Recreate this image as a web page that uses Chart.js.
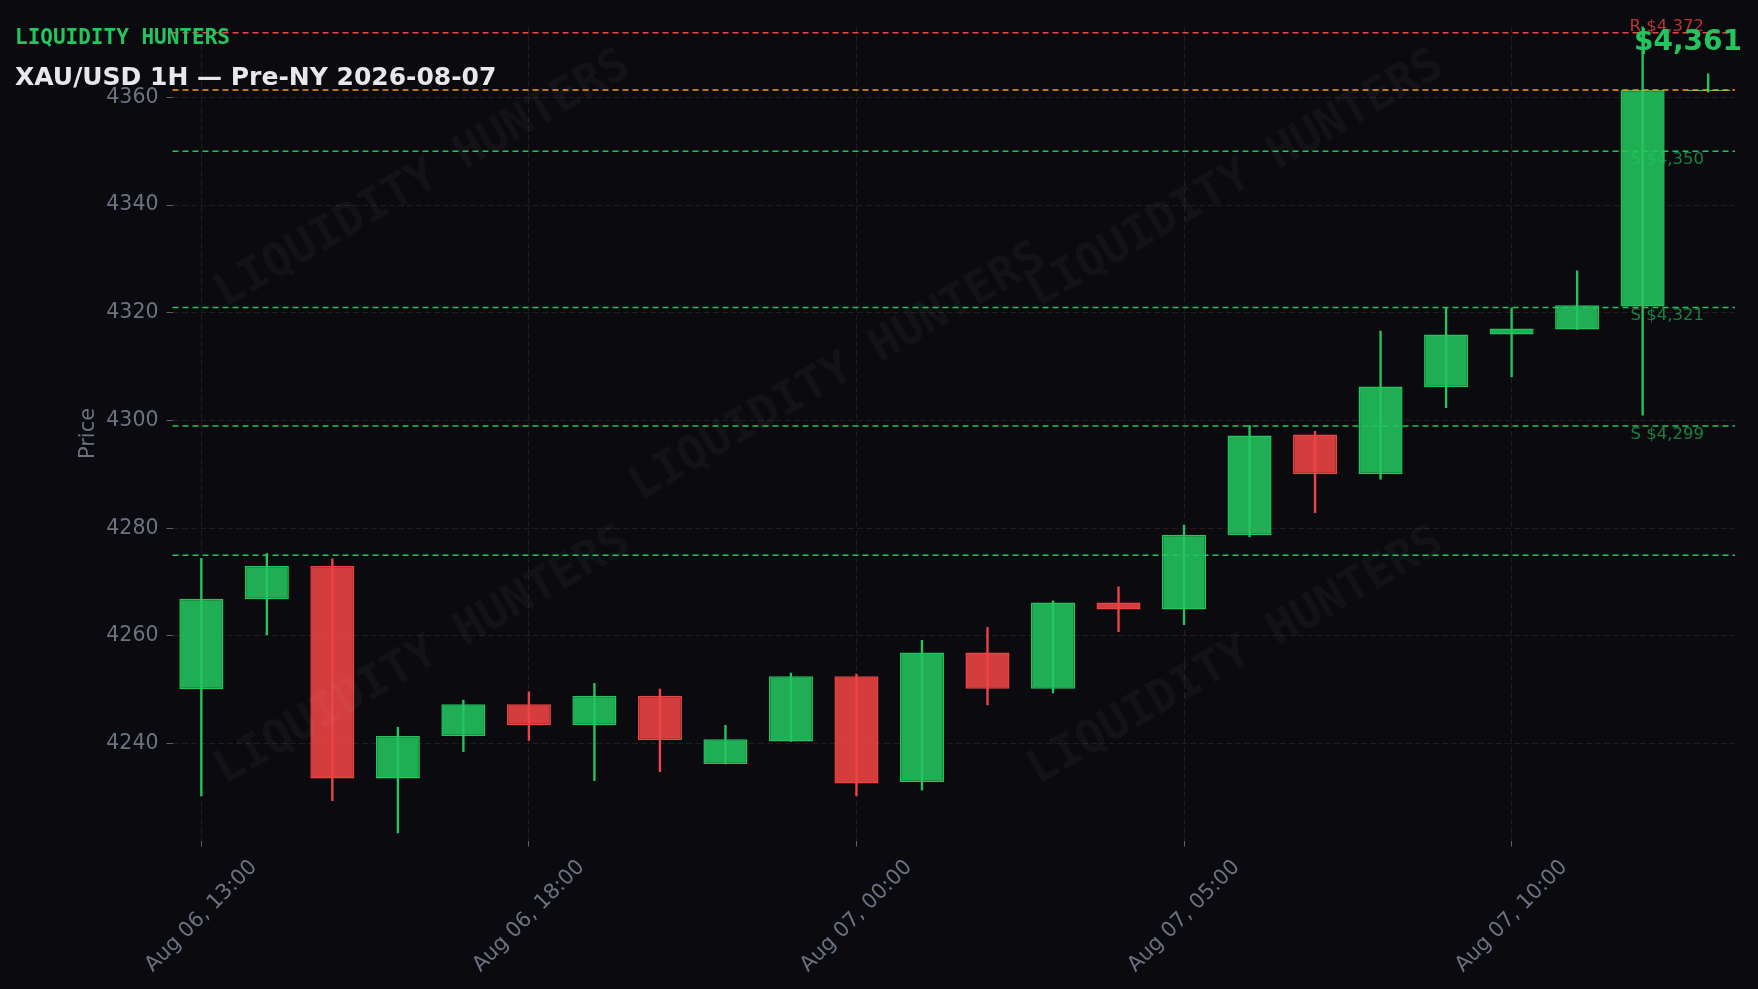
<!DOCTYPE html>
<html><head><meta charset="utf-8">
<script src="https://cdn.jsdelivr.net/npm/chart.js@4.4.1/dist/chart.umd.min.js"></script>
<style>html,body{margin:0;padding:0;background:#0b0b0f;}canvas{display:block}</style>
</head><body>
<canvas id="c" width="1758" height="989"></canvas>
<script>
// ---- data ----
const timeLabels = [
  "Aug 06, 13:00","Aug 06, 14:00","Aug 06, 15:00","Aug 06, 16:00","Aug 06, 17:00",
  "Aug 06, 18:00","Aug 06, 19:00","Aug 06, 20:00","Aug 06, 21:00","Aug 06, 23:00",
  "Aug 07, 00:00","Aug 07, 01:00","Aug 07, 02:00","Aug 07, 03:00","Aug 07, 04:00",
  "Aug 07, 05:00","Aug 07, 06:00","Aug 07, 07:00","Aug 07, 08:00","Aug 07, 09:00",
  "Aug 07, 10:00","Aug 07, 11:00","Aug 07, 12:00","Aug 07, 13:00"
];
const opens  = [4250.1,4266.8,4273.0,4233.5,4241.4,4247.3,4243.4,4248.9,4236.2,4240.4,4252.5,4232.8,4256.9,4250.2,4266.2,4264.9,4278.7,4297.4,4290.0,4306.2,4316.0,4316.9,4321.2,4361.2];
const highs  = [4274.4,4275.3,4274.3,4243.0,4248.1,4249.6,4251.2,4250.1,4243.4,4253.1,4252.9,4259.2,4261.6,4266.5,4269.1,4280.6,4299.1,4298.0,4316.6,4320.9,4320.9,4327.8,4373.2,4364.4];
const lows   = [4230.3,4260.2,4229.4,4223.4,4238.5,4240.6,4233.1,4234.8,4236.2,4240.4,4230.3,4231.4,4247.2,4249.4,4260.8,4262.1,4278.4,4282.9,4289.1,4302.4,4308.1,4316.9,4301.0,4361.0];
const closes = [4266.9,4273.0,4233.5,4241.4,4247.3,4243.4,4248.9,4240.6,4240.8,4252.5,4232.6,4256.9,4250.2,4266.2,4264.9,4278.8,4297.2,4290.0,4306.3,4316.0,4317.1,4321.4,4361.4,4361.4];
const yTickValues = [4240,4260,4280,4300,4320,4340,4360];
const xTickIndices = [0,5,10,15,20];
const yMin = 4222, yMax = 4373.2;
const xMin = -0.44, xMax = 23.41;
const levelValues = [4372, 4350, 4321, 4299, 4275];
const levelTypes  = ['R','S','S','S','S'];
const levelLabels = ['R $4,372','S $4,350','S $4,321','S $4,299',''];
const lastPrice = closes[closes.length-1];
const priceLabel = '$4,361';
const brandText = 'LIQUIDITY HUNTERS';
const titleText = 'XAU/USD 1H \u2014 Pre-NY 2026-08-07';
const yAxisTitle = 'Price';

// ---- styles ----
const BG = '#0b0b0f';
const GREEN = '#22c55e', RED = '#ef4444', ORANGE = '#f59e0b';
const GREEN_FILL = 'rgba(34,197,94,0.88)', RED_FILL = 'rgba(239,68,68,0.88)';
const TICK_COLOR = '#6b7280';
const FONT = "'DejaVu Sans', sans-serif";
const MONO = "'DejaVu Sans Mono', monospace";

const idx = opens.map((_, i) => i);
const up = idx.map(i => closes[i] >= opens[i]);

const bgPlugin = {
  id: 'bg',
  beforeDraw(chart) {
    const ctx = chart.ctx;
    ctx.save(); ctx.fillStyle = BG; ctx.fillRect(0, 0, chart.width, chart.height); ctx.restore();
  }
};

const overlayPlugin = {
  id: 'overlay',
  afterDatasetsDraw(chart) {
    const {ctx, chartArea: a, scales: {y}} = chart;
    ctx.save();
    // watermarks
    ctx.font = "bold 46px " + MONO;
    ctx.fillStyle = 'rgba(255,255,255,0.035)';
    ctx.textAlign = 'center'; ctx.textBaseline = 'middle';
    const marks = [[0.2406,0.182],[0.4767,0.377],[0.7031,0.182],[0.2406,0.664],[0.7031,0.664]];
    marks.forEach(([fx, fy]) => {
      ctx.save();
      ctx.translate(fx * chart.width, fy * chart.height);
      ctx.rotate(-30 * Math.PI / 180);
      ctx.fillText(brandText, 0, 0);
      ctx.restore();
    });
    // level lines
    ctx.lineWidth = 1.5;
    ctx.setLineDash([6, 4]);
    levelValues.forEach((v, i) => {
      const py = y.getPixelForValue(v);
      ctx.strokeStyle = levelTypes[i] === 'R' ? RED : GREEN;
      ctx.beginPath(); ctx.moveTo(a.left, py); ctx.lineTo(a.right, py); ctx.stroke();
    });
    const pp = y.getPixelForValue(lastPrice);
    ctx.strokeStyle = ORANGE;
    ctx.beginPath(); ctx.moveTo(a.left, pp); ctx.lineTo(a.right, pp); ctx.stroke();
    ctx.setLineDash([]);
    // level labels
    ctx.font = "16.5px " + FONT;
    ctx.textAlign = 'right'; ctx.textBaseline = 'alphabetic';
    levelValues.forEach((v, i) => {
      if (!levelLabels[i]) return;
      const py = y.getPixelForValue(v);
      if (levelTypes[i] === 'R') {
        ctx.fillStyle = 'rgba(239,68,68,0.75)';
        ctx.fillText(levelLabels[i], a.right - 31, py - 1.5);
      } else {
        ctx.fillStyle = 'rgba(34,197,94,0.62)';
        ctx.fillText(levelLabels[i], a.right - 31, py + 13);
      }
    });
    ctx.restore();
  },
  afterDraw(chart) {
    const ctx = chart.ctx;
    ctx.save();
    ctx.textAlign = 'left'; ctx.textBaseline = 'alphabetic';
    ctx.font = "bold 21px " + MONO;
    ctx.fillStyle = GREEN;
    ctx.fillText(brandText, 15, 44);
    ctx.font = "bold 25px " + FONT;
    ctx.fillStyle = '#e8e8ec';
    ctx.fillText(titleText, 15, 85);
    ctx.font = "bold 28px " + FONT;
    ctx.fillStyle = GREEN;
    ctx.textAlign = 'right';
    ctx.fillText(priceLabel, chart.width - 16, 50);
    ctx.restore();
  }
};

new Chart(document.getElementById('c'), {
  type: 'bar',
  data: {
    datasets: [
      {
        label: 'wicks',
        data: idx.map(i => ({x: i, y: [lows[i], highs[i]]})),
        backgroundColor: idx.map(i => up[i] ? GREEN : RED),
        borderWidth: 0,
        barThickness: 1.7,
        grouped: false,
        order: 2
      },
      {
        label: 'bodies',
        data: idx.map(i => ({x: i, y: [opens[i], closes[i]]})),
        backgroundColor: idx.map(i => up[i] ? GREEN_FILL : RED_FILL),
        borderColor: idx.map(i => up[i] ? GREEN : RED),
        borderWidth: 1.5,
        borderSkipped: false,
        barPercentage: 0.672,
        categoryPercentage: 1,
        grouped: false,
        order: 1
      }
    ]
  },
  options: {
    responsive: false,
    animation: false,
    layout: { padding: { top: 26.4, right: 23, bottom: 0, left: 0 } },
    plugins: { legend: { display: false }, tooltip: { enabled: false } },
    scales: {
      x: {
        type: 'linear',
        min: xMin, max: xMax,
        offset: false,
        afterBuildTicks: s => { s.ticks = xTickIndices.map(v => ({value: v})); },
        afterFit: s => { s.height = 148.5; },
        grid: { offset: false, color: 'rgba(255,255,255,0.08)', tickColor: '#5b6170', tickLength: 6, lineWidth: 1 },
        border: { display: false, dash: [6, 3] },
        ticks: {
          autoSkip: false,
          minRotation: 45, maxRotation: 45,
          labelOffset: 52.5,
          padding: 8.5,
          color: TICK_COLOR,
          font: { family: FONT, size: 21 },
          callback: v => timeLabels[v]
        }
      },
      y: {
        type: 'linear',
        min: yMin, max: yMax,
        afterBuildTicks: s => { s.ticks = yTickValues.map(v => ({value: v})); },
        afterFit: s => { s.width = 172.5; },
        grid: { color: 'rgba(255,255,255,0.08)', tickColor: '#5b6170', tickLength: 6, lineWidth: 1 },
        border: { display: false, dash: [6, 3] },
        ticks: {
          padding: 8,
          color: TICK_COLOR,
          font: { family: FONT, size: 20.5 },
          callback: v => String(v)
        },
        title: {
          display: true, text: yAxisTitle, color: TICK_COLOR,
          font: { family: FONT, size: 21 },
          padding: { top: 76, bottom: 0 }
        }
      }
    }
  },
  plugins: [bgPlugin, overlayPlugin]
});
</script>
</body></html>
